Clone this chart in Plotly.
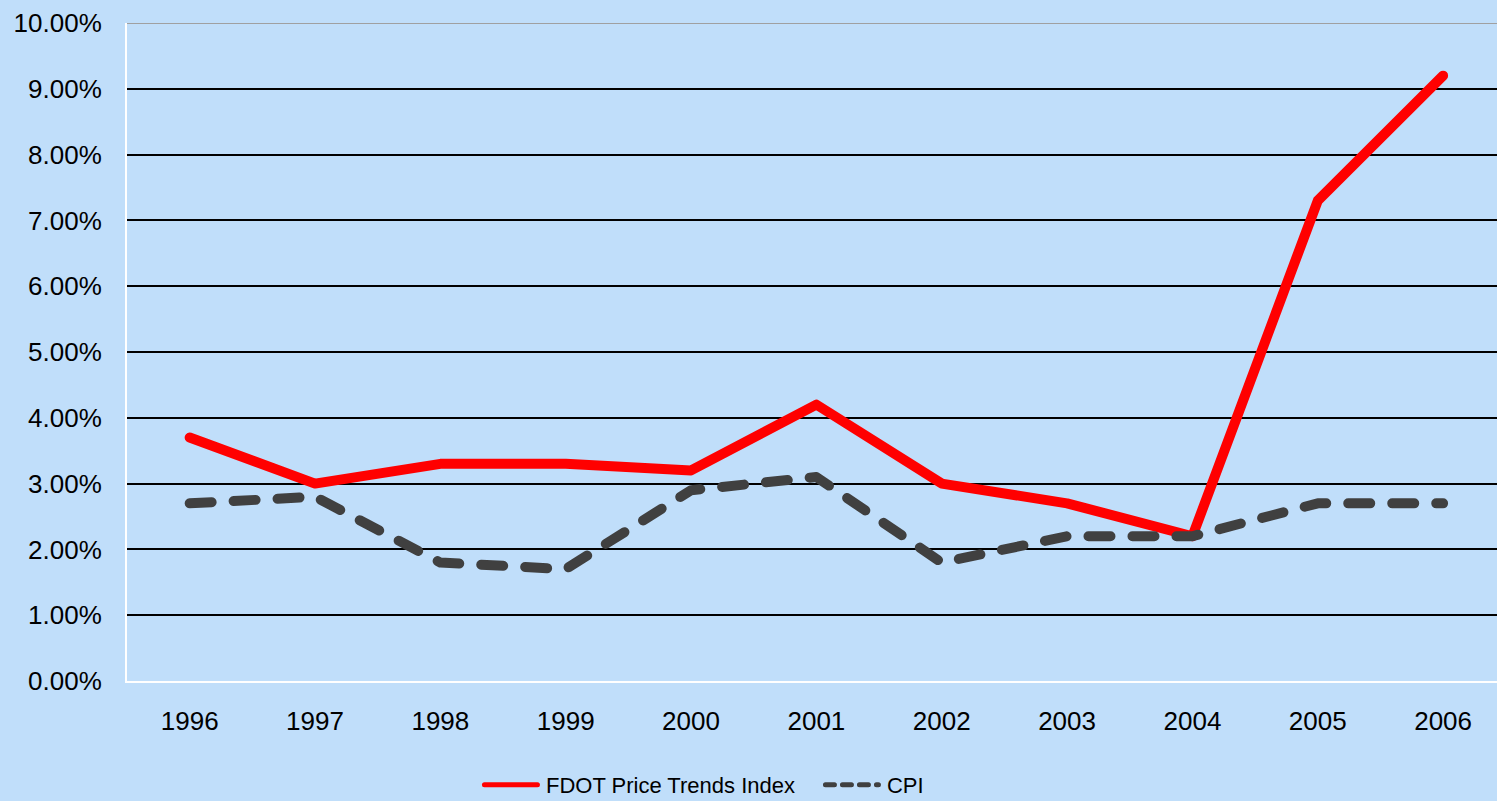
import plotly.graph_objects as go

years = ["1996", "1997", "1998", "1999", "2000", "2001", "2002", "2003", "2004", "2005", "2006"]
fdot = [3.7, 3.0, 3.3, 3.3, 3.2, 4.2, 3.0, 2.7, 2.2, 7.3, 9.2]
cpi = [2.7, 2.8, 1.8, 1.7, 2.9, 3.1, 1.8, 2.2, 2.2, 2.7, 2.7]
y_ticks = [0, 1, 2, 3, 4, 5, 6, 7, 8, 9, 10]
y_tick_text = ["0.00%", "1.00%", "2.00%", "3.00%", "4.00%", "5.00%", "6.00%", "7.00%", "8.00%", "9.00%", "10.00%"]

BG = "#C0DEFA"
FONT = "Liberation Sans, Arial, sans-serif"

fig = go.Figure()
fig.add_trace(go.Scatter(x=years, y=fdot, mode="lines", name="FDOT Price Trends Index",
                         line=dict(color="#FF0000", width=10)))
fig.add_trace(go.Scatter(x=years, y=cpi, mode="lines", name="CPI",
                         line=dict(color="#404040", width=10, dash="22px,22px")))

fig.add_shape(type="line", xref="paper", yref="y", x0=0, x1=1, y0=10, y1=10,
              line=dict(color="#A0A0A0", width=2), layer="above")

fig.update_layout(
    width=1497, height=801,
    paper_bgcolor=BG, plot_bgcolor=BG,
    margin=dict(l=127, r=0, t=23, b=120),
    font=dict(family=FONT, color="black"),
    showlegend=True,
    legend=dict(orientation="h", xref="container", yref="container",
                x=0.3206, xanchor="left", y=0.02, yanchor="middle",
                font=dict(size=22, family=FONT, color="black"),
                bgcolor="rgba(0,0,0,0)", entrywidth=270, itemwidth=56),
    xaxis=dict(type="category", range=[-0.5, 10.43], showgrid=False,
               showline=True, linecolor="white", linewidth=2,
               ticks="", ticklabelstandoff=16,
               tickfont=dict(size=26, family=FONT, color="black"), zeroline=False),
    yaxis=dict(range=[0, 10], tickvals=y_ticks, ticktext=y_tick_text,
               showgrid=True, gridcolor="black", gridwidth=1.5,
               showline=True, linecolor="white", linewidth=2,
               zeroline=False, ticks="", ticklabelstandoff=18,
               tickfont=dict(size=26, family=FONT, color="black")),
)

post = """
document.body.style.margin='0';
document.body.style.padding='0';
var gd = document.getElementById('{plot_id}');
function styleLines(){
  gd.querySelectorAll('.scatterlayer path.js-line').forEach(function(p){
    p.style.strokeLinecap='round'; p.style.strokeLinejoin='round';
  });
  gd.querySelectorAll('.legend .legendlines path').forEach(function(p, i){
    p.setAttribute('d', 'M4.5,0h53');
    p.style.strokeWidth='5px';
    p.style.strokeLinecap='round';
    if (i === 1) { p.style.strokeDasharray='9px,8px'; }
  });
}
styleLines();
if (gd.on) { gd.on('plotly_afterplot', styleLines); }
setTimeout(styleLines, 50);
setTimeout(styleLines, 300);
"""

fig.write_html("out.html", post_script=post, config={"displayModeBar": False})
